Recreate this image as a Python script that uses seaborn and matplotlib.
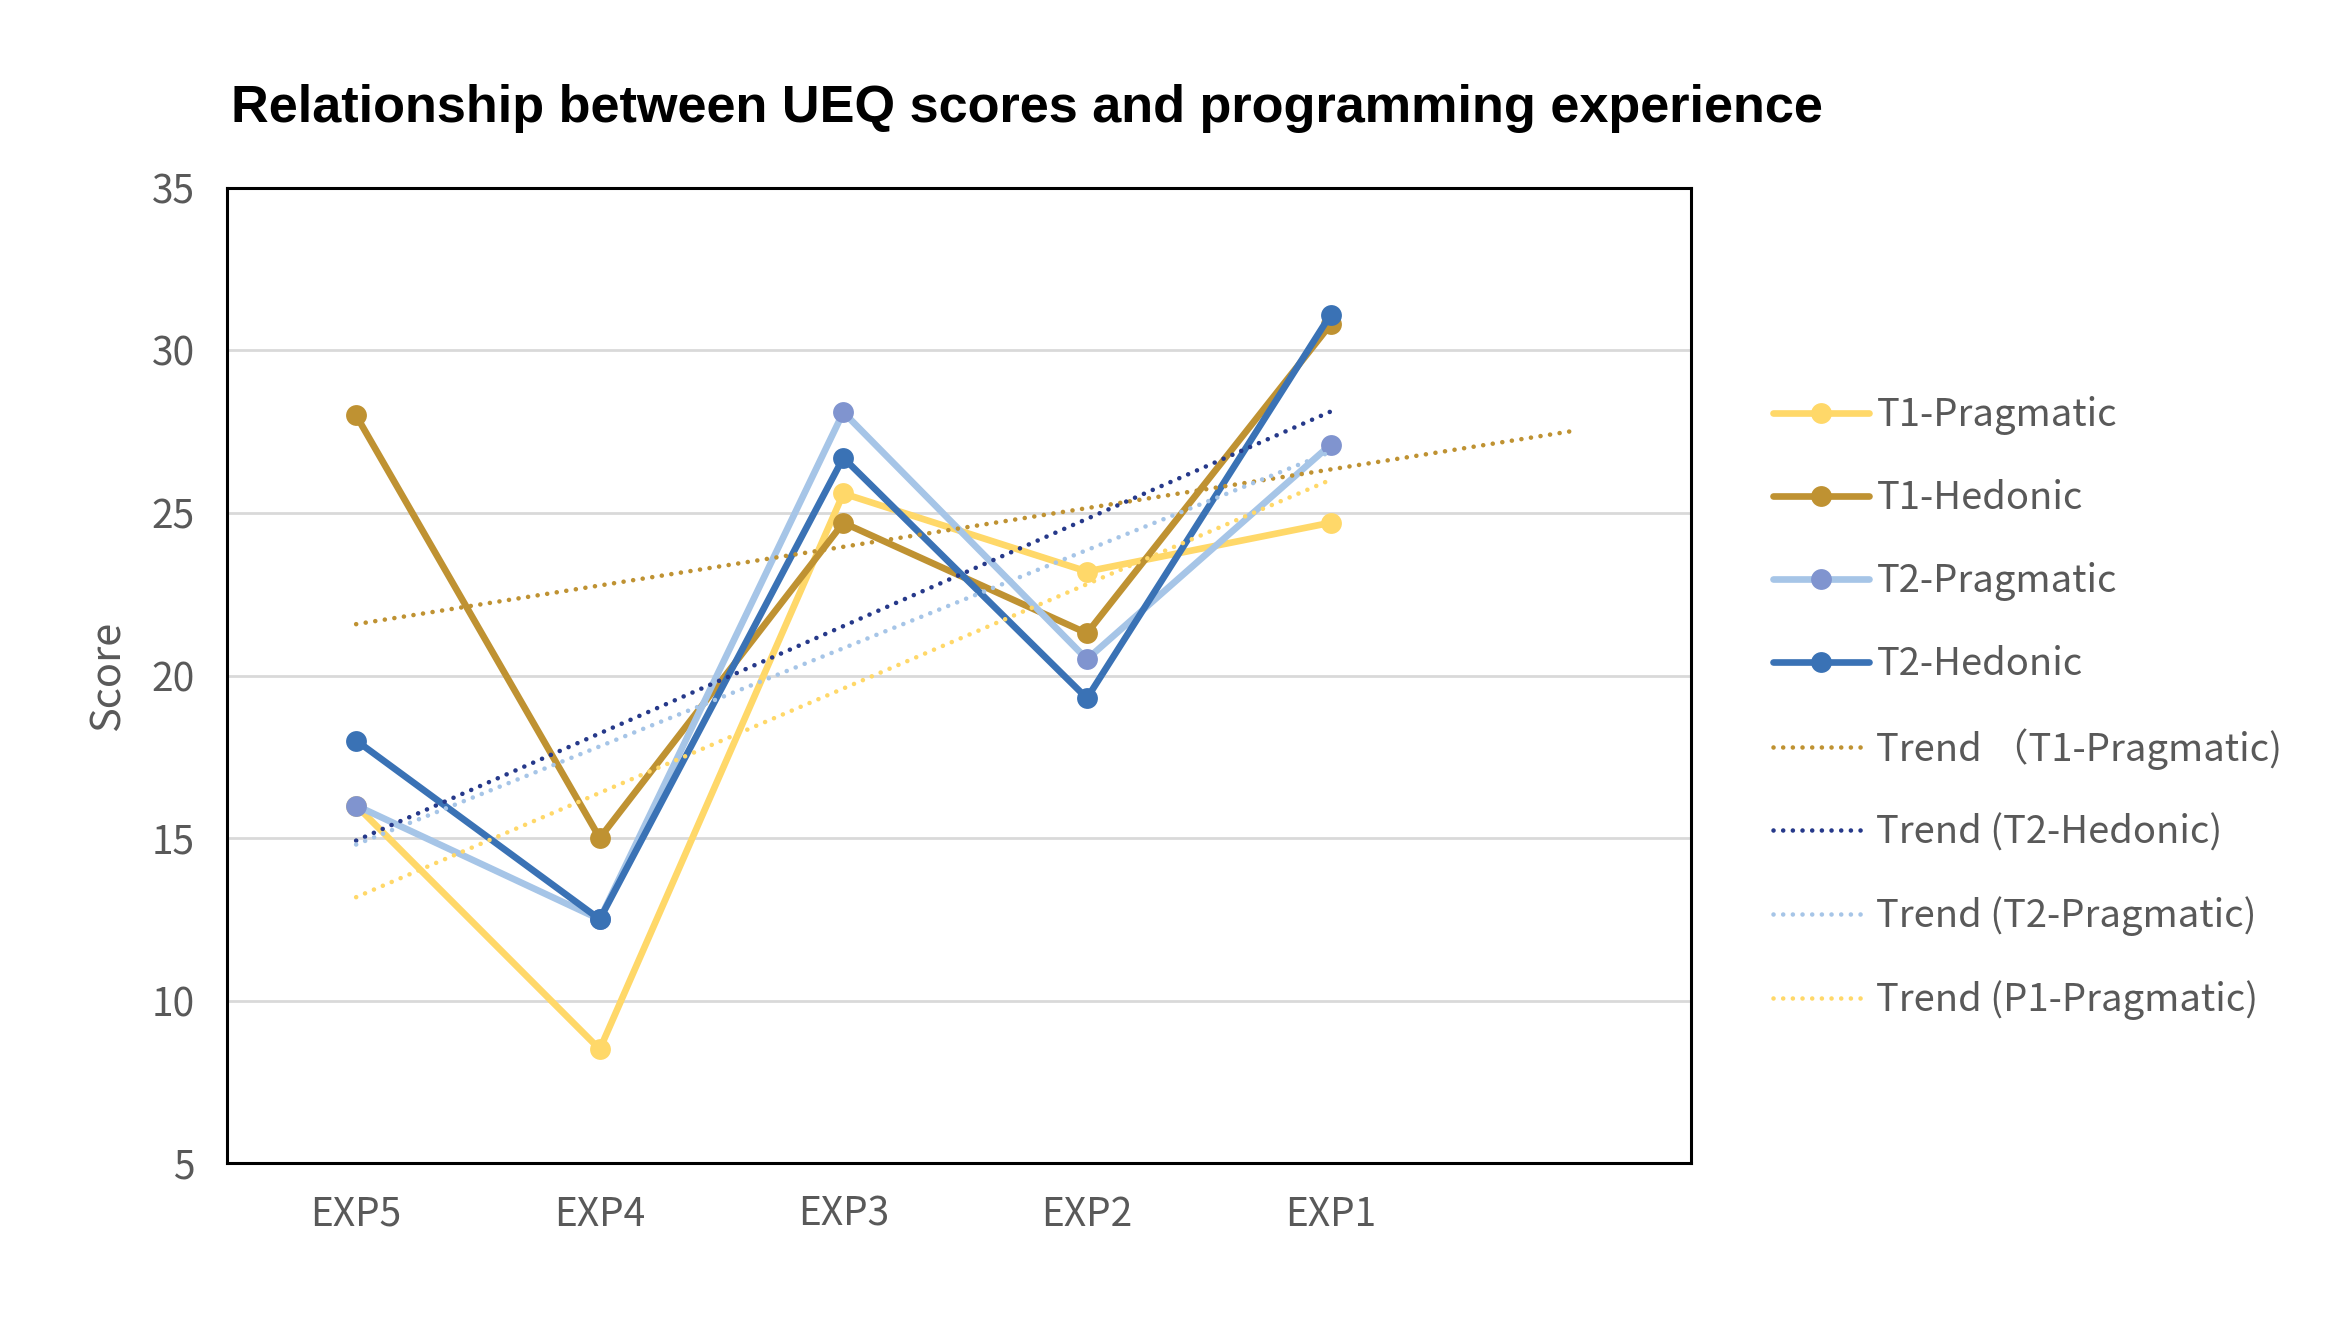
import numpy as np
import pandas as pd
import matplotlib
matplotlib.use("Agg")
import matplotlib.pyplot as plt
import seaborn as sns

# ---- data ----
categories = ["EXP5", "EXP4", "EXP3", "EXP2", "EXP1"]
t1_pragmatic = [16.0, 8.5, 25.6, 23.2, 24.7]
t1_hedonic = [28.0, 15.0, 24.7, 21.3, 30.8]
t2_pragmatic = [16.0, 12.5, 28.1, 20.5, 27.1]
t2_hedonic = [18.0, 12.5, 26.7, 19.3, 31.1]
y_ticks = [5, 10, 15, 20, 25, 30, 35]

series_names = ["T1-Pragmatic", "T1-Hedonic", "T2-Pragmatic", "T2-Hedonic"]
series_values = [t1_pragmatic, t1_hedonic, t2_pragmatic, t2_hedonic]
line_colors = ["#FFD869", "#BF9232", "#A6C5E7", "#3A72B5"]
marker_colors = ["#FFD869", "#BF9232", "#8094CF", "#3A72B5"]

# trend lines: (label, source series, color, forward periods)
trend_labels = ["Trend \uff08T1-Pragmatic)", "Trend (T2-Hedonic)",
                "Trend (T2-Pragmatic)", "Trend (P1-Pragmatic)"]
trend_sources = [t1_hedonic, t2_hedonic, t2_pragmatic, t1_pragmatic]
trend_colors = ["#BF9232", "#26398A", "#A6C5E7", "#FFD869"]
trend_forward = [1, 0, 0, 0]

sns.set_theme(style="white")
plt.rcParams["font.family"] = ["Noto Sans CJK SC", "DejaVu Sans"]

fig = plt.figure(figsize=(23.38, 13.2), dpi=100)
ax = fig.add_axes([0.0970, 0.1189, 0.7232 - 0.0970, 0.8576 - 0.1189])

xpos = np.arange(len(categories))
for name, vals, lc, mc in zip(series_names, series_values, line_colors, marker_colors):
    df = pd.DataFrame({"x": xpos, "y": vals})
    sns.lineplot(data=df, x="x", y="y", ax=ax, color=lc, linewidth=4.8,
                 marker="o", markersize=15, markerfacecolor=mc,
                 markeredgecolor=mc, markeredgewidth=0, label=name,
                 zorder=3, solid_capstyle="round")

for lab, src, col, fwd in zip(trend_labels, trend_sources, trend_colors, trend_forward):
    k, b = np.polyfit(xpos, src, 1)
    xt = np.array([0, len(categories) - 1 + fwd])
    dft = pd.DataFrame({"x": xt, "y": k * xt + b})
    sns.lineplot(data=dft, x="x", y="y", ax=ax, color=col, linewidth=3.3,
                 linestyle=(0, (0.01, 2.1)), dash_capstyle="round",
                 label=lab, zorder=4)

ax.set_xlim(-0.531, 5.479)
ax.set_ylim(5, 35)
ax.set_yticks(y_ticks)
ax.set_xticks(xpos)
ax.set_xticklabels(categories)
ax.tick_params(axis="both", length=0, labelsize=28, labelcolor="#595959")
ax.tick_params(axis="y", pad=23)
ax.tick_params(axis="x", pad=23)
ax.yaxis.grid(True, color="#D9D9D9", linewidth=2.0)
ax.xaxis.grid(False)
ax.set_axisbelow(True)
for s in ax.spines.values():
    s.set_color("black")
    s.set_linewidth(2.2)
    s.set_zorder(5)

ax.set_xlabel("")
ax.set_ylabel("Score", fontsize=30, color="#595959")
ax.yaxis.set_label_coords(-0.067, 0.5)

h, l = ax.get_legend_handles_labels()
if ax.legend_:
    ax.legend_.remove()
leg = fig.legend(h, l, loc="center left", bbox_to_anchor=(0.7585, 0.4636),
                 bbox_transform=fig.transFigure, frameon=False, fontsize=27.5,
                 handlelength=2.5, handletextpad=0.2, labelspacing=1.15,
                 borderpad=0, borderaxespad=0)
for t in leg.get_texts():
    t.set_color("#595959")

fig.text(231 / 2338, 1 - 122 / 1320,
         "Relationship between UEQ scores and programming experience",
         fontsize=37.6, fontweight="bold", color="black",
         family=["Liberation Sans", "DejaVu Sans"], ha="left", va="baseline")

fig.savefig("out.png", dpi=100, facecolor="white")
